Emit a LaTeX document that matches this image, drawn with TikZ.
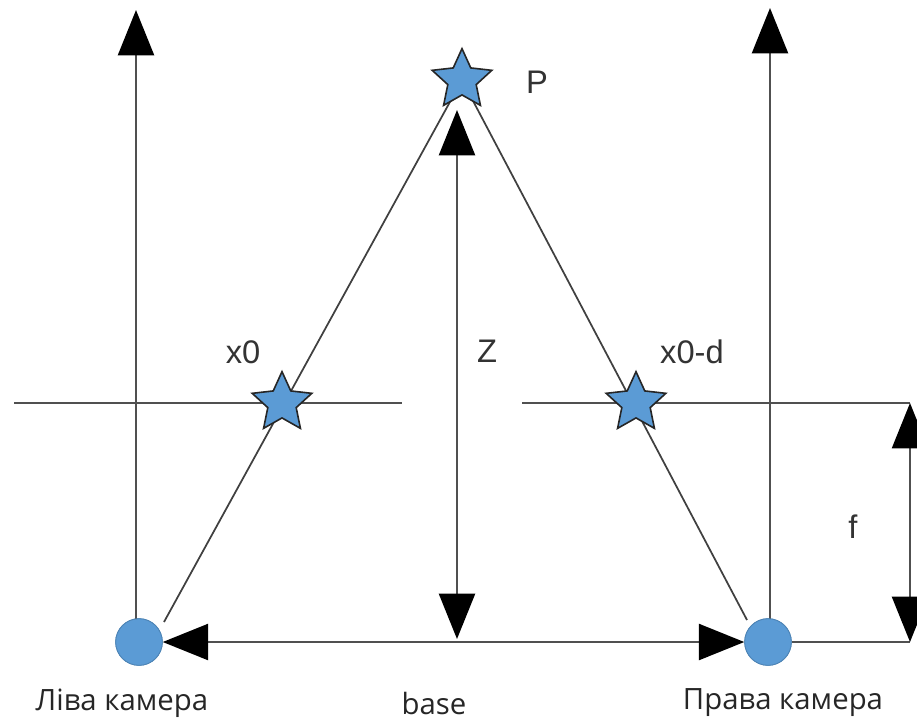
\documentclass[tikz,border=0pt]{standalone}
\usepackage{fontspec}
\setmainfont{Liberation Sans}
\newfontfamily\labfont{Open Sans}
\usetikzlibrary{arrows.meta,shapes.geometric}
\definecolor{starblue}{HTML}{5B9BD5}
\definecolor{linegray}{HTML}{505050}
\begin{document}
\begin{tikzpicture}[x=0.75pt,y=-0.75pt,
  ln/.style={draw=linegray, line width=1.7pt},
  thin ln/.style={draw=black!75, line width=1.3pt},
  tip/.tip={Triangle[length=34pt,width=27pt,color=black]},
  arr/.style={ln, -tip},
  darr/.style={ln, tip-tip},
  starnode/.style={star, star points=5, star point ratio=2.1, minimum size=47pt, fill=starblue, draw=black!85, line width=1.2pt, inner sep=0pt},
  cam/.style={circle, minimum size=35pt, fill=starblue, draw=starblue!85!black, line width=0.6pt, inner sep=0pt},
  lab/.style={text=black!80, font=\fontsize{24.5}{28}\selectfont, inner sep=0pt},
  blab/.style={text=black!85, font=\labfont\fontsize{22}{26}\selectfont, inner sep=0pt}]
\useasboundingbox (0,0) rectangle (917,722);
\clip (0,0) rectangle (917,722);
\fill[white] (0,0) rectangle (917,722);

% coordinates
\coordinate (topL) at (136,10);
\coordinate (topR) at (770,8);
\coordinate (ZT) at (457,110);
\coordinate (ZB) at (457,639);
\coordinate (eL) at (164,622);
\coordinate (eR) at (747,620);
\coordinate (ipL1) at (14,403);
\coordinate (ipL2) at (402,403);
\coordinate (ipR1) at (522,403);
\coordinate (fT) at (910,403);
\coordinate (fB) at (910,642);

% cameras (placed first for names)
\node[cam] (camL) at (139,642) {};
\node[cam] (camR) at (768,642) {};
\coordinate (cL) at (136,642);
\coordinate (cR) at (770,642);

% optical axes
\draw[arr] (cL) -- (topL);
\draw[arr] (cR) -- (topR);

% image planes
\draw[ln] (ipL1) -- (ipL2);
\draw[ln] (ipR1) -- (fT);
\draw[ln] (camR) -- (fB);
\draw[darr] (fT) -- (fB);

% rays
\coordinate (Pc) at (462,80);
\draw[thin ln] (Pc) -- (eL);
\draw[thin ln] (Pc) -- (eR);

% Z and base
\draw[darr] (ZB) -- (ZT);
\draw[darr] (camL) -- (camR);

% redraw cameras on top
\node[cam] at (camL) {};
\node[cam] at (camR) {};

% stars
\node[starnode] (P) at (Pc) {};
\node[starnode] (sL) at (282,403) {};
\node[starnode] (sR) at (636,403) {};

% labels
\node[lab] (lP) at (537,82) {P};
\node[lab] (lx0) at (243,352) {x0};
\node[lab] (lZ) at (487,351) {Z};
\node[lab] (lx0d) at (692,352) {x0-d};
\node[lab] (lf) at (853,527) {f};
\node[blab] (lL) at (122,703) {Ліва камера};
\node[blab] (lB) at (434,703) {base};
\node[blab] (lR) at (783,703) {Права камера};
\end{tikzpicture}
\end{document}
